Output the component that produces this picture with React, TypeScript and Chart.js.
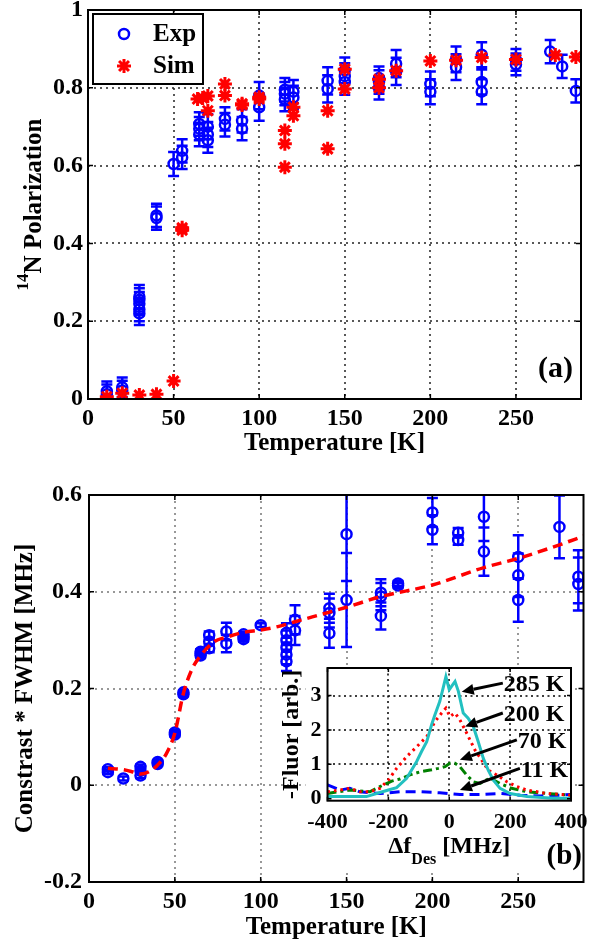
import React, { useEffect, useRef } from 'react';
import { Chart, registerables } from 'chart.js';

Chart.register(...registerables);

const FONT = "'Liberation Serif', 'Times New Roman', Times, serif";
const BLUE = '#0000ff';
const RED = '#ff0000';
const CYAN = '#22c0c0';
const GREEN = '#008000';

// ---------------- tick labels ----------------
const tempTicks = [0, 50, 100, 150, 200, 250];
const polTicks = [0, 0.2, 0.4, 0.6, 0.8, 1];
const contrastTicks = [-0.2, 0, 0.2, 0.4, 0.6];
const freqTicks = [-400, -200, 0, 200, 400];
const fluorTicks = [0, 1, 2, 3];

// ---------------- panel (a): 14N polarization ----------------
const expPolT = [11, 11, 20, 20, 30, 30, 30, 30, 30, 40, 40, 50, 55, 55, 65, 65, 65, 70, 70, 70, 80, 80, 90, 90, 100, 100, 115, 115, 115, 120, 120, 140, 140, 150, 150, 150, 170, 170, 170, 180, 180, 200, 200, 215, 215, 230, 230, 230, 250, 250, 270, 277, 285];
const expPol = [0.012, 0.02, 0.022, 0.03, 0.22, 0.23, 0.245, 0.255, 0.263, 0.465, 0.472, 0.604, 0.621, 0.638, 0.68, 0.695, 0.707, 0.665, 0.68, 0.7, 0.705, 0.72, 0.695, 0.715, 0.75, 0.78, 0.77, 0.785, 0.795, 0.775, 0.79, 0.797, 0.818, 0.815, 0.83, 0.845, 0.8, 0.815, 0.825, 0.842, 0.862, 0.79, 0.81, 0.853, 0.873, 0.79, 0.815, 0.885, 0.86, 0.872, 0.893, 0.855, 0.792];
const expPolErr = [0.025, 0.025, 0.025, 0.025, 0.03, 0.03, 0.03, 0.03, 0.03, 0.03, 0.03, 0.031, 0.03, 0.03, 0.03, 0.03, 0.03, 0.032, 0.032, 0.032, 0.03, 0.03, 0.03, 0.03, 0.035, 0.035, 0.03, 0.03, 0.03, 0.03, 0.03, 0.035, 0.035, 0.033, 0.033, 0.033, 0.03, 0.03, 0.03, 0.035, 0.035, 0.032, 0.032, 0.033, 0.033, 0.032, 0.032, 0.032, 0.028, 0.028, 0.03, 0.03, 0.03];
const simPolT = [11, 20, 30, 40, 50, 55, 55, 64, 67, 70, 70, 80, 80, 90, 90, 100, 100, 115, 115, 115, 120, 120, 140, 140, 150, 150, 170, 170, 180, 200, 215, 230, 250, 273, 285];
const simPol = [0.006, 0.015, 0.01, 0.012, 0.046, 0.434, 0.44, 0.771, 0.774, 0.779, 0.741, 0.81, 0.78, 0.756, 0.759, 0.771, 0.776, 0.69, 0.656, 0.596, 0.75, 0.728, 0.741, 0.643, 0.848, 0.797, 0.822, 0.8, 0.844, 0.869, 0.871, 0.878, 0.873, 0.884, 0.879];

// ---------------- panel (b): contrast * FWHM ----------------
const expCwT = [11, 11, 20, 30, 30, 30, 40, 40, 50, 50, 55, 55, 65, 65, 65, 70, 70, 70, 80, 80, 90, 90, 90, 100, 115, 115, 115, 115, 115, 120, 120, 140, 140, 140, 150, 150, 170, 170, 170, 180, 180, 200, 200, 215, 215, 230, 230, 250, 250, 250, 274, 285, 285];
const expCw = [0.027, 0.033, 0.014, 0.02, 0.03, 0.038, 0.044, 0.048, 0.105, 0.109, 0.188, 0.192, 0.268, 0.272, 0.276, 0.283, 0.297, 0.31, 0.293, 0.318, 0.302, 0.307, 0.312, 0.331, 0.256, 0.27, 0.285, 0.3, 0.315, 0.32, 0.342, 0.314, 0.356, 0.366, 0.383, 0.519, 0.35, 0.39, 0.398, 0.413, 0.417, 0.528, 0.564, 0.507, 0.522, 0.483, 0.555, 0.383, 0.434, 0.472, 0.534, 0.416, 0.431];
const expCwErr = [0.004, 0.004, 0.004, 0.005, 0.005, 0.005, 0.004, 0.004, 0.004, 0.004, 0.004, 0.004, 0.005, 0.005, 0.005, 0.008, 0.008, 0.008, 0.018, 0.018, 0.005, 0.005, 0.005, 0.004, 0.02, 0.02, 0.02, 0.02, 0.02, 0.03, 0.03, 0.03, 0.03, 0.03, 0.097, 0.097, 0.028, 0.028, 0.028, 0.005, 0.005, 0.03, 0.03, 0.01, 0.01, 0.05, 0.05, 0.045, 0.045, 0.045, 0.065, 0.055, 0.055];
const simCwT = [11, 20, 25, 30, 35, 40, 45, 50, 55, 60, 65, 73, 80, 90, 100, 110, 120, 150, 170, 200, 230, 250, 274, 288];
const simCw = [0.035, 0.032, 0.028, 0.023, 0.028, 0.042, 0.065, 0.108, 0.19, 0.24, 0.268, 0.297, 0.306, 0.316, 0.321, 0.328, 0.338, 0.368, 0.39, 0.414, 0.45, 0.469, 0.497, 0.515];

// ---------------- inset: fluorescence spectra ----------------
const f285 = [-400, -327, -272, -239, -200, -173, -140, -107, -91, -74, -58, -47, -31, -20, -11, 0, 11, 19, 30, 46, 62, 79, 95, 112, 128, 145, 167, 200, 255, 342, 400];
const v285 = [0.06, 0.06, 0.06, 0.15, 0.25, 0.32, 0.59, 1.08, 1.37, 1.66, 2.15, 2.44, 2.83, 3.22, 3.55, 3.17, 3.31, 3.41, 3.12, 2.49, 2.34, 2.1, 1.66, 1.17, 0.83, 0.54, 0.3, 0.15, 0.06, 0.01, 0.01];
const f200 = [-400, -359, -327, -294, -261, -228, -200, -173, -140, -107, -74, -47, -25, -11, 2, 19, 35, 52, 68, 84, 106, 128, 156, 189, 222, 255, 320, 400];
const v200 = [0.2, 0.25, 0.3, 0.2, 0.2, 0.3, 0.54, 0.88, 1.22, 1.51, 1.8, 2.24, 2.49, 2.63, 2.39, 2.49, 2.29, 2.0, 1.71, 1.42, 1.13, 0.83, 0.69, 0.49, 0.35, 0.25, 0.15, 0.1];
const f70 = [-400, -327, -261, -228, -189, -162, -129, -96, -63, -36, -14, 2, 19, 35, 57, 79, 101, 134, 167, 205, 255, 320, 400];
const v70 = [0.15, 0.25, 0.2, 0.35, 0.51, 0.57, 0.69, 0.78, 0.83, 0.88, 0.93, 1.03, 1.03, 0.93, 0.69, 0.49, 0.44, 0.6, 0.44, 0.3, 0.2, 0.15, 0.1];
const f11 = [-400, -359, -327, -294, -228, -162, -96, -31, 35, 101, 167, 233, 299, 364, 400];
const v11 = [0.4, 0.25, 0.3, 0.2, 0.15, 0.2, 0.2, 0.17, 0.12, 0.12, 0.15, 0.1, 0.08, 0.1, 0.12];

const arrowLabels = ['285 K', '200 K', '70 K', '11 K'];
const arrowTailF = [176, 176, 222, 232];
const arrowTailV = [3.36, 2.49, 1.71, 0.88];
const arrowHeadF = [41, 52, 35, 35];
const arrowHeadV = [3.11, 2.1, 1.13, 0.25];

// ---------------- helpers ----------------
type Pt = { x: number; y: number };
const pts = (xs: number[], ys: number[]): Pt[] => xs.map((x, i) => ({ x, y: ys[i] }));

const setTicks = (values: number[]) => (scale: any) => {
  scale.ticks = values.map((value) => ({ value }));
};
const fixSize = (size: number) => (scale: any) => {
  if (scale.isHorizontal()) scale.height = size;
  else scale.width = size;
  scale.paddingLeft = 0;
  scale.paddingRight = 0;
  scale.paddingTop = 0;
  scale.paddingBottom = 0;
};

function axis(min: number, max: number, ticks: number[], size: number, pad: number, fontSize: number) {
  return {
    type: 'linear',
    min,
    max,
    afterBuildTicks: setTicks(ticks),
    afterFit: fixSize(size),
    grid: { display: false, drawTicks: false },
    border: { display: false },
    ticks: {
      padding: pad,
      color: '#000',
      font: { family: FONT, size: fontSize, weight: 'bold' },
      maxRotation: 0,
      minRotation: 0,
      autoSkip: false,
      callback: (v: any) => String(v),
    },
  };
}

function drawMarker(ctx: CanvasRenderingContext2D, style: string, x: number, y: number, r: number, color: string, lw: number) {
  ctx.save();
  ctx.strokeStyle = color;
  ctx.lineWidth = lw;
  ctx.setLineDash([]);
  ctx.beginPath();
  if (style === 'circle') {
    ctx.arc(x, y, r, 0, Math.PI * 2);
  } else {
    for (let k = 0; k < 4; k++) {
      const ang = (k * Math.PI) / 4;
      const dx = Math.cos(ang) * r;
      const dy = Math.sin(ang) * r;
      ctx.moveTo(x - dx, y - dy);
      ctx.lineTo(x + dx, y + dy);
    }
  }
  ctx.stroke();
  ctx.restore();
}

type Part = { t: string; size: number; dy?: number };
function drawParts(ctx: CanvasRenderingContext2D, parts: Part[], x: number, y: number, align: 'left' | 'center' | 'right') {
  ctx.textBaseline = 'alphabetic';
  ctx.textAlign = 'left';
  ctx.fillStyle = '#000';
  const widths = parts.map((p) => {
    ctx.font = `bold ${p.size}px ${FONT}`;
    return ctx.measureText(p.t).width;
  });
  const total = widths.reduce((s, w) => s + w, 0);
  let cx = align === 'center' ? x - total / 2 : align === 'right' ? x - total : x;
  parts.forEach((p, i) => {
    ctx.font = `bold ${p.size}px ${FONT}`;
    ctx.fillText(p.t, cx, y + (p.dy || 0));
    cx += widths[i];
  });
}
function drawRotated(ctx: CanvasRenderingContext2D, parts: Part[], baseX: number, cy: number) {
  ctx.save();
  ctx.translate(baseX, cy);
  ctx.rotate(-Math.PI / 2);
  drawParts(ctx, parts, 0, 0, 'center');
  ctx.restore();
}

const gridPlugin = (color: string, dash: number[], lw: number) => ({
  id: 'dotGrid',
  beforeDatasetsDraw(chart: any) {
    const { ctx, chartArea: a, scales } = chart;
    ctx.save();
    ctx.strokeStyle = color;
    ctx.lineWidth = lw;
    ctx.setLineDash(dash);
    ctx.beginPath();
    for (const t of scales.x.ticks) {
      const p = Math.round(scales.x.getPixelForValue(t.value));
      if (p <= a.left + 2 || p >= a.right - 2) continue;
      ctx.moveTo(p, a.top);
      ctx.lineTo(p, a.bottom);
    }
    for (const t of scales.y.ticks) {
      const p = Math.round(scales.y.getPixelForValue(t.value));
      if (p <= a.top + 2 || p >= a.bottom - 2) continue;
      ctx.moveTo(a.left, p);
      ctx.lineTo(a.right, p);
    }
    ctx.stroke();
    ctx.restore();
  },
});

const errorBarPlugin = {
  id: 'errorBars',
  beforeDatasetsDraw(chart: any) {
    const { ctx, chartArea: a, scales } = chart;
    ctx.save();
    ctx.beginPath();
    ctx.rect(a.left, a.top, a.right - a.left, a.bottom - a.top);
    ctx.clip();
    chart.data.datasets.forEach((ds: any) => {
      if (!ds.errors) return;
      ctx.strokeStyle = ds.borderColor;
      ctx.lineWidth = 2.5;
      ctx.setLineDash([]);
      ctx.beginPath();
      ds.data.forEach((p: Pt, i: number) => {
        const e = ds.errors[i];
        const px = scales.x.getPixelForValue(p.x);
        const y1 = scales.y.getPixelForValue(p.y - e);
        const y2 = scales.y.getPixelForValue(p.y + e);
        ctx.moveTo(px, y1);
        ctx.lineTo(px, y2);
        ctx.moveTo(px - 5.5, y1);
        ctx.lineTo(px + 5.5, y1);
        ctx.moveTo(px - 5.5, y2);
        ctx.lineTo(px + 5.5, y2);
      });
      ctx.stroke();
    });
    ctx.restore();
  },
};

const framePlugin = (tickLen: number, lw: number) => ({
  id: 'frame',
  afterDatasetsDraw(chart: any) {
    const { ctx, chartArea: a, scales } = chart;
    ctx.save();
    ctx.setLineDash([]);
    ctx.strokeStyle = '#000';
    ctx.lineWidth = 1.5;
    ctx.beginPath();
    for (const t of scales.x.ticks) {
      const p = scales.x.getPixelForValue(t.value);
      ctx.moveTo(p, a.bottom);
      ctx.lineTo(p, a.bottom - tickLen);
      ctx.moveTo(p, a.top);
      ctx.lineTo(p, a.top + tickLen);
    }
    for (const t of scales.y.ticks) {
      const p = scales.y.getPixelForValue(t.value);
      ctx.moveTo(a.left, p);
      ctx.lineTo(a.left + tickLen, p);
      ctx.moveTo(a.right, p);
      ctx.lineTo(a.right - tickLen, p);
    }
    ctx.stroke();
    ctx.lineWidth = lw;
    ctx.strokeRect(a.left, a.top, a.right - a.left, a.bottom - a.top);
    ctx.restore();
  },
});

const legendPlugin = {
  id: 'boxLegend',
  afterDatasetsDraw(chart: any) {
    const { ctx, chartArea: a } = chart;
    const bx = a.left + 5;
    const by = a.top + 4;
    ctx.save();
    ctx.fillStyle = '#fff';
    ctx.fillRect(bx, by, 110, 70);
    ctx.strokeStyle = '#000';
    ctx.lineWidth = 2;
    ctx.strokeRect(bx, by, 110, 70);
    chart.data.datasets.forEach((ds: any, i: number) => {
      const cy = by + 20 + i * 32;
      drawMarker(ctx, ds.pointStyle, a.left + 36, cy, ds.pointRadius, ds.borderColor, ds.pointBorderWidth);
      ctx.font = `bold 25px ${FONT}`;
      ctx.fillStyle = '#000';
      ctx.textAlign = 'left';
      ctx.textBaseline = 'middle';
      ctx.fillText(ds.label, a.left + 65, cy + 1);
    });
    ctx.restore();
  },
};

const textsA = {
  id: 'textsA',
  afterDraw(chart: any) {
    const { ctx, chartArea: a } = chart;
    ctx.save();
    drawRotated(ctx, [{ t: '14', size: 17, dy: -13 }, { t: 'N Polarization', size: 25 }], 41, (a.top + a.bottom) / 2);
    drawParts(ctx, [{ t: 'Temperature [K]', size: 25 }], (a.left + a.right) / 2, a.bottom + 50.5, 'center');
    ctx.font = `bold 30px ${FONT}`;
    ctx.textAlign = 'right';
    ctx.textBaseline = 'middle';
    ctx.fillText('(a)', a.right - 8, a.bottom - 30);
    ctx.restore();
  },
};

const textsB = {
  id: 'textsB',
  afterDraw(chart: any) {
    const { ctx, chartArea: a } = chart;
    ctx.save();
    drawRotated(ctx, [{ t: 'Constrast * FWHM [MHz]', size: 25 }], 32, (a.top + a.bottom) / 2);
    drawParts(ctx, [{ t: 'Temperature [K]', size: 25 }], (a.left + a.right) / 2, a.bottom + 52, 'center');
    ctx.restore();
  },
};

const insetBg = {
  id: 'insetBg',
  beforeDraw(chart: any) {
    const { ctx, chartArea: a } = chart;
    ctx.save();
    ctx.fillStyle = '#fff';
    ctx.fillRect(a.left - 22, a.top, a.right + 3 - (a.left - 22), a.bottom + 72 - a.top);
    ctx.restore();
  },
};

const insetTexts = {
  id: 'insetTexts',
  afterDraw(chart: any) {
    const { ctx, chartArea: a, scales } = chart;
    ctx.save();
    drawRotated(ctx, [{ t: '-Fluor [arb.]', size: 24 }], 28, (a.top + a.bottom) / 2);
    drawParts(ctx, [{ t: '\u0394f', size: 24 }, { t: 'Des', size: 16, dy: 11 }, { t: ' [MHz]', size: 24 }], (a.left + a.right) / 2, a.bottom + 52, 'center');
    ctx.font = `bold 29px ${FONT}`;
    ctx.textAlign = 'right';
    ctx.textBaseline = 'middle';
    ctx.fillStyle = '#000';
    ctx.fillText('(b)', a.right + 11, a.bottom + 56);
    arrowLabels.forEach((label, i) => {
      const tx = scales.x.getPixelForValue(arrowTailF[i]);
      const ty = scales.y.getPixelForValue(arrowTailV[i]);
      const hx = scales.x.getPixelForValue(arrowHeadF[i]);
      const hy = scales.y.getPixelForValue(arrowHeadV[i]);
      const ang = Math.atan2(hy - ty, hx - tx);
      const L = 12;
      const W = 5.5;
      const bx = hx - Math.cos(ang) * L;
      const by = hy - Math.sin(ang) * L;
      ctx.strokeStyle = '#000';
      ctx.fillStyle = '#000';
      ctx.lineWidth = 3;
      ctx.setLineDash([]);
      ctx.beginPath();
      ctx.moveTo(tx, ty);
      ctx.lineTo(bx, by);
      ctx.stroke();
      ctx.beginPath();
      ctx.moveTo(hx, hy);
      ctx.lineTo(bx + Math.sin(ang) * W, by - Math.cos(ang) * W);
      ctx.lineTo(bx - Math.sin(ang) * W, by + Math.cos(ang) * W);
      ctx.closePath();
      ctx.fill();
      ctx.font = `bold 24px ${FONT}`;
      ctx.textAlign = 'left';
      ctx.textBaseline = 'middle';
      ctx.fillText(label, tx + 1, ty + 2);
    });
    ctx.restore();
  },
};

const baseOptions = (padding: any) => ({
  animation: false,
  responsive: false,
  maintainAspectRatio: false,
  devicePixelRatio: 1,
  events: [],
  layout: { padding },
  plugins: { legend: { display: false }, tooltip: { enabled: false } },
});

function configA(): any {
  return {
    type: 'scatter',
    data: {
      datasets: [
        { label: 'Exp', data: pts(expPolT, expPol), errors: expPolErr, pointStyle: 'circle', pointRadius: 5, pointBorderWidth: 2.5, borderColor: BLUE, pointBorderColor: BLUE, backgroundColor: 'rgba(0,0,0,0)', pointBackgroundColor: 'rgba(0,0,0,0)', order: 1 },
        { label: 'Sim', data: pts(simPolT, simPol), pointStyle: 'star', pointRadius: 7, pointBorderWidth: 3, borderColor: RED, pointBorderColor: RED, backgroundColor: RED, order: 0 },
      ],
    },
    options: {
      ...baseOptions({ top: 9, right: 1, left: 0, bottom: 0 }),
      scales: {
        x: axis(0, 288, tempTicks, 61, 5, 24),
        y: axis(0, 1, polTicks, 88, 5, 24),
      },
    },
    plugins: [gridPlugin('#222', [2, 4], 1.5), errorBarPlugin, framePlugin(5, 2), legendPlugin, textsA],
  };
}

function configB(): any {
  return {
    type: 'scatter',
    data: {
      datasets: [
        { label: 'Exp', data: pts(expCwT, expCw), errors: expCwErr, pointStyle: 'circle', pointRadius: 5, pointBorderWidth: 2.5, borderColor: BLUE, pointBorderColor: BLUE, backgroundColor: 'rgba(0,0,0,0)', pointBackgroundColor: 'rgba(0,0,0,0)', order: 1 },
        { label: 'Sim', data: pts(simCwT, simCw), showLine: true, pointRadius: 0, borderColor: RED, borderWidth: 3.5, borderDash: [10, 6], cubicInterpolationMode: 'monotone', order: 0 },
      ],
    },
    options: {
      ...baseOptions({ top: 35, right: 1, left: 0, bottom: 0 }),
      scales: {
        x: axis(0, 288, tempTicks, 58, 5, 24),
        y: axis(-0.2, 0.6, contrastTicks, 89, 7, 24),
      },
    },
    plugins: [gridPlugin('#777', [2, 4], 1.5), errorBarPlugin, framePlugin(5, 2), textsB],
  };
}

function configInset(): any {
  const line = (label: string, f: number[], v: number[], color: string, dash: number[], order: number) => ({
    label,
    data: pts(f, v),
    showLine: true,
    pointRadius: 0,
    borderColor: color,
    borderWidth: 3,
    borderDash: dash,
    order,
  });
  return {
    type: 'scatter',
    data: {
      datasets: [
        line('285 K', f285, v285, CYAN, [], 0),
        line('200 K', f200, v200, RED, [2.5, 4], 1),
        line('70 K', f70, v70, GREEN, [9, 4, 3, 4], 2),
        line('11 K', f11, v11, BLUE, [10, 6], 3),
      ],
    },
    options: {
      ...baseOptions({ top: 13, right: 20, left: 0, bottom: 0 }),
      scales: {
        x: axis(-400, 400, freqTicks, 79.3, 8, 22),
        y: axis(-0.06, 3.8, fluorTicks, 57.5, 6, 22),
      },
    },
    plugins: [insetBg, gridPlugin('#000', [2, 3.5], 1.5), framePlugin(4, 2), insetTexts],
  };
}

function ChartCanvas({ make, left, top, width, height }: { make: () => any; left: number; top: number; width: number; height: number }) {
  const ref = useRef<HTMLCanvasElement>(null);
  useEffect(() => {
    const chart = new Chart(ref.current as HTMLCanvasElement, make());
    return () => chart.destroy();
  }, []);
  return <canvas ref={ref} width={width} height={height} style={{ position: 'absolute', left, top, width, height }} />;
}

export default function App() {
  return (
    <div style={{ position: 'absolute', left: 0, top: 0, width: 591, height: 940, background: '#fff', overflow: 'hidden' }}>
      <ChartCanvas make={configA} left={0} top={0} width={591} height={460} />
      <ChartCanvas make={configB} left={0} top={460} width={591} height={480} />
      <ChartCanvas make={configInset} left={270} top={655} width={321} height={225} />
    </div>
  );
}
